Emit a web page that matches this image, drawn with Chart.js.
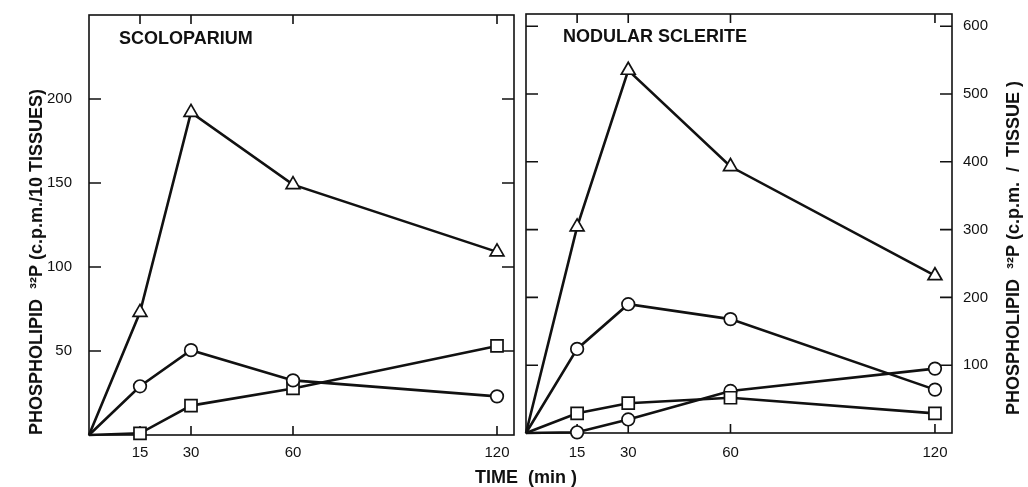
<!DOCTYPE html>
<html><head><meta charset="utf-8">
<script src="https://cdn.jsdelivr.net/npm/chart.js@4"></script>
<style>
html,body{margin:0;padding:0;background:#fff;}
#wrap{position:relative;width:1028px;height:487px;overflow:hidden;}
canvas{position:absolute;left:0;top:0;}
#xt{position:absolute;left:475px;top:467px;font:bold 18px "Liberation Sans",Arial,sans-serif;white-space:pre;color:#111;}
</style></head><body>
<div id="wrap">
<canvas id="c1" width="1028" height="487"></canvas>
<canvas id="c2" width="1028" height="487"></canvas>
<div id="xt">TIME  (min )</div>
</div>
<script>
// ---- data ----
const times = [0, 15, 30, 60, 120];
const xTickValues = [15, 30, 60, 120];
const leftYTicks = [50, 100, 150, 200];
const rightYTicks = [100, 200, 300, 400, 500, 600];

const scolTriangle = [0, 73, 192, 149, 109];
const scolCircle   = [0, 29, 50.5, 32.5, 23];
const scolSquare   = [0, 1, 17.5, 27.7, 53];

const nodTriangle    = [0, 304, 535, 393, 232];
const nodCircleUpper = [0, 124, 190, 168, 64];
const nodCircleLower = [0, 1, 20, 62, 95];
const nodSquare      = [0, 29, 44, 52, 29];

const leftTitle  = 'PHOSPHOLIPID  \u00B3\u00B2P (c.p.m./10 TISSUES)';
const rightTitle = 'PHOSPHOLIPID  \u00B3\u00B2P (c.p.m.  /  TISSUE )';

// ---- styles ----
const FONT = '"Liberation Sans", Arial, sans-serif';
const INK = '#111';
const radii = { triangle: 8, circle: 6.3, rect: 8.5 };

function series(vals, style) {
  return {
    data: times.map((t, i) => ({ x: t, y: vals[i] })),
    pointStyle: style,
    pointRadius: ctx => ctx.dataIndex === 0 ? 0 : radii[style],
    pointHoverRadius: ctx => ctx.dataIndex === 0 ? 0 : radii[style],
    borderColor: INK,
    backgroundColor: '#fff',
    pointBackgroundColor: '#fff',
    pointBorderColor: INK,
    pointBorderWidth: 1.7,
    borderWidth: 2.6,
    tension: 0,
    clip: false
  };
}

function frameTicks(yScaleId, yTicks, label, lx, ly, rTitle) {
  return {
    id: 'frame',
    beforeDatasetsDraw(chart) {
      const { ctx, chartArea: a } = chart;
      const xs = chart.scales.x, ys = chart.scales[yScaleId];
      ctx.save();
      ctx.strokeStyle = INK;
      ctx.lineWidth = 1.6;
      ctx.strokeRect(a.left, a.top, a.right - a.left, a.bottom - a.top);
      ctx.beginPath();
      xTickValues.forEach(v => {
        const px = xs.getPixelForValue(v);
        ctx.moveTo(px, a.bottom); ctx.lineTo(px, a.bottom - 9);
        ctx.moveTo(px, a.top); ctx.lineTo(px, a.top + 9);
      });
      yTicks.forEach(v => {
        const py = ys.getPixelForValue(v);
        ctx.moveTo(a.left, py); ctx.lineTo(a.left + 12, py);
        ctx.moveTo(a.right, py); ctx.lineTo(a.right - 12, py);
      });
      ctx.stroke();
      ctx.fillStyle = INK;
      ctx.font = 'bold 18px ' + FONT;
      ctx.textBaseline = 'middle';
      ctx.textAlign = 'left';
      ctx.fillText(label, a.left + lx, a.top + ly);
      if (rTitle) {
        ctx.translate(1014, 415);
        ctx.rotate(-Math.PI / 2);
        ctx.fillText(rTitle, 0, 0);
      }
      ctx.restore();
    }
  };
}

const tickFont = { family: FONT, size: 15 };
function noPad(s) { s.paddingTop = 0; s.paddingBottom = 0; s.paddingLeft = 0; s.paddingRight = 0; }

new Chart(document.getElementById('c1'), {
  type: 'line',
  data: { datasets: [series(scolTriangle, 'triangle'), series(scolCircle, 'circle'), series(scolSquare, 'rect')] },
  options: {
    responsive: false, animation: false, events: [],
    layout: { padding: { left: 0, top: 15, right: 514, bottom: 0 } },
    plugins: { legend: { display: false }, tooltip: { enabled: false } },
    scales: {
      x: {
        type: 'linear', min: 0, max: 125,
        afterBuildTicks: s => { s.ticks = xTickValues.map(v => ({ value: v })); },
        afterFit: s => { s.height = 52; noPad(s); },
        grid: { display: false, drawTicks: false }, border: { display: false },
        ticks: { font: tickFont, color: INK, padding: 9, maxRotation: 0, autoSkip: false }
      },
      y: {
        type: 'linear', min: 0, max: 250,
        afterBuildTicks: s => { s.ticks = leftYTicks.map(v => ({ value: v })); },
        afterFit: s => { s.width = 89; noPad(s); },
        grid: { display: false, drawTicks: false }, border: { display: false },
        ticks: { font: tickFont, color: INK, padding: 17 },
        title: { display: true, text: leftTitle, align: 'start', color: INK,
                 font: { family: FONT, size: 18, weight: 'bold' }, padding: { top: 26, bottom: 0 } }
      }
    }
  },
  plugins: [frameTicks('y', leftYTicks, 'SCOLOPARIUM', 30, 24, null)]
});

new Chart(document.getElementById('c2'), {
  type: 'line',
  data: { datasets: [series(nodTriangle, 'triangle'), series(nodCircleUpper, 'circle'), series(nodSquare, 'rect'), series(nodCircleLower, 'circle')] },
  options: {
    responsive: false, animation: false, events: [],
    layout: { padding: { left: 526, top: 14, right: 0, bottom: 0 } },
    plugins: { legend: { display: false }, tooltip: { enabled: false } },
    scales: {
      x: {
        type: 'linear', min: 0, max: 125,
        afterBuildTicks: s => { s.ticks = xTickValues.map(v => ({ value: v })); },
        afterFit: s => { s.height = 54; noPad(s); },
        grid: { display: false, drawTicks: false }, border: { display: false },
        ticks: { font: tickFont, color: INK, padding: 11, maxRotation: 0, autoSkip: false }
      },
      y: {
        type: 'linear', position: 'right', min: 0, max: 618,
        afterBuildTicks: s => { s.ticks = rightYTicks.map(v => ({ value: v })); },
        afterFit: s => { s.width = 76; noPad(s); },
        grid: { display: false, drawTicks: false }, border: { display: false },
        ticks: { font: tickFont, color: INK, padding: 11 }
      }
    }
  },
  plugins: [frameTicks('y', rightYTicks, 'NODULAR SCLERITE', 37, 23, rightTitle)]
});
</script>
</body></html>
